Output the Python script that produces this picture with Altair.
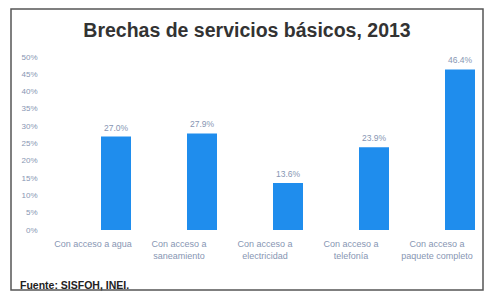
import altair as alt
import pandas as pd

categorias = [
    "Con acceso a agua",
    "Con acceso a|saneamiento",
    "Con acceso a|electricidad",
    "Con acceso a|telefonía",
    "Con acceso a|paquete completo",
]
valores = [27.0, 27.9, 13.6, 23.9, 46.4]
y_ticks = [0, 5, 10, 15, 20, 25, 30, 35, 40, 45, 50]
titulo = "Brechas de servicios básicos, 2013"
fuente = "Fuente: SISFOH, INEI."

df = pd.DataFrame({"categoria": categorias, "valor": valores})
df_fuente = pd.DataFrame({"t": [fuente]})
df_titulo = pd.DataFrame({"t": [titulo]})

LABEL = "#8796b3"
BAR = "#1f8ded"

x = alt.X(
    "categoria:N",
    sort=None,
    title=None,
    scale=alt.Scale(paddingInner=0, paddingOuter=0),
    axis=alt.Axis(
        labelAngle=0, labelExpr="split(datum.label, '|')", labelColor=LABEL,
        labelFontSize=9, labelFont="Liberation Sans", labelLineHeight=12,
        ticks=False, domain=False, labelPadding=9, labelBaseline="top",
    ),
)
y = alt.Y(
    "valor:Q",
    title=None,
    scale=alt.Scale(domain=[0, 50], nice=False),
    axis=alt.Axis(
        values=y_ticks, labelExpr="datum.value + '%'", grid=False, ticks=False,
        domain=False, labelPadding=13, labelColor=LABEL, labelFontSize=8,
        labelFont="Liberation Sans", labelOverlap=False,
    ),
)

base = alt.Chart(df).encode(x=x, y=y)
bars = base.mark_bar(color=BAR, size=30, xOffset=23)
text = base.transform_calculate(
    lab="format(datum.valor, '.1f') + '%'"
).mark_text(dy=-9, dx=23, fontSize=8.5, color=LABEL, font="Liberation Sans").encode(
    text="lab:N"
)
foot = alt.Chart(df_fuente).mark_text(
    align="left", baseline="middle", fontSize=10.5, fontWeight="bold",
    color="#222222", font="Liberation Sans",
).encode(x=alt.value(-30), y=alt.value(229), text="t:N")
head = alt.Chart(df_titulo).mark_text(
    align="center", baseline="middle", fontSize=19.5, fontWeight="bold",
    color="#333333", font="Liberation Sans",
).encode(x=alt.value(197), y=alt.value(-26), text="t:N")
border = alt.Chart(df_fuente).mark_rect(
    filled=False, stroke="#555555", strokeWidth=1.5
).encode(x=alt.value(-39), x2=alt.value(433), y=alt.value(-48), y2=alt.value(233))

chart = alt.layer(bars, text, border, foot, head).properties(
    width=430, height=173,
    autosize=alt.AutoSizeParams(type="none"),
    padding={"left": 42, "top": 49, "right": 4, "bottom": 61},
    background="white",
).configure_view(stroke=None)

chart.save("out.html", embed_options={"renderer": "svg", "actions": False})
